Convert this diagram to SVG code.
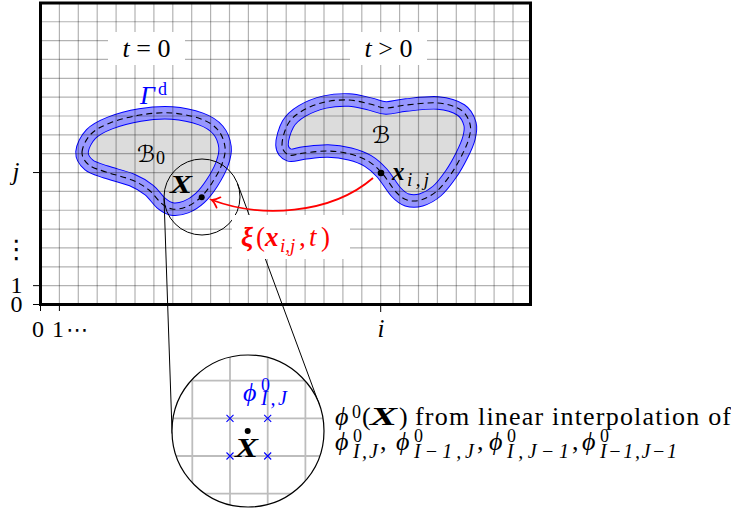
<svg xmlns="http://www.w3.org/2000/svg" width="731" height="511" viewBox="0 0 731 511">
<defs>
  <style>
    .serif { font-family: "Liberation Serif", "Times New Roman", serif; }
    .cal { font-family: "DejaVu Serif", "DejaVu Sans", serif; }
    .sym { font-family: "DejaVu Sans", sans-serif; }
    .grid { stroke: #000; stroke-opacity: 0.3; stroke-width: 1.2; fill: none; }
    .mgrid { stroke: #bdbdbd; stroke-width: 1.8; fill: none; }
    .band-edge { fill: #dcdcdc; stroke: #0000ff; stroke-width: 13.5; }
    .band { fill: none; stroke: #9797ff; stroke-width: 11.6; }
    .dash { fill: none; stroke: #000; stroke-width: 1.1; stroke-dasharray: 6 4; }
    .thin { fill: none; stroke: #000; stroke-width: 1; }
    .bi { font-weight: bold; font-style: italic; }
    .it { font-style: italic; }
    .cross { stroke: #0000ff; stroke-width: 1.1; }
  </style>
  <marker id="redto" markerUnits="userSpaceOnUse" markerWidth="20" markerHeight="20" viewBox="-10 -10 20 20" refX="0" refY="0" orient="auto">
    <path d="M -7,-5.5 Q -3,-1 0.5,0 Q -3,1 -7,5.5" fill="none" stroke="#ff0000" stroke-width="1.7" stroke-linecap="round"/>
  </marker>
  <clipPath id="plotclip"><rect x="40.5" y="3" width="490" height="301.5"/></clipPath>
  <clipPath id="magclip"><circle cx="248" cy="431" r="76"/></clipPath>
  <path id="b0" d="M 82,152 C 82.3,146.8 86.3,138.8 91,134 C 95.7,129.2 101.8,126.2 110,123 C 118.2,119.8 129.7,116.7 140,115 C 150.3,113.3 161.8,112.3 172,113 C 182.2,113.7 193.3,116.2 201,119 C 208.7,121.8 214,125.3 218,130 C 222,134.7 224.3,141.3 225,147 C 225.7,152.7 224.2,158 222,164 C 219.8,170 215.7,177.3 212,183 C 208.3,188.7 204.3,194 200,198 C 195.7,202 190.7,205.2 186,207 C 181.3,208.8 176.2,209.7 172,209 C 167.8,208.3 164.8,206.2 161,203 C 157.2,199.8 153.8,193.8 149,190 C 144.2,186.2 139.2,183 132,180 C 124.8,177 113.2,174.5 106,172 C 98.8,169.5 93,168.3 89,165 C 85,161.7 81.7,157.2 82,152 Z"/>
  <path id="b1" d="M 282,145 C 281.8,139.8 284.7,129.7 288,124 C 291.3,118.3 295.8,114.7 302,111 C 308.2,107.3 317.2,103.8 325,102 C 332.8,100.2 341.5,99.7 349,100 C 356.5,100.3 363.8,102.7 370,104 C 376.2,105.3 380,107.8 386,108 C 392,108.2 397.3,105.8 406,105 C 414.7,104.2 428.8,102.2 438,103 C 447.2,103.8 455.7,106.5 461,110 C 466.3,113.5 468.7,119.3 470,124 C 471.3,128.7 470.3,132.8 469,138 C 467.7,143.2 465,149 462,155 C 459,161 455.2,168 451,174 C 446.8,180 442,186.7 437,191 C 432,195.3 426,198.5 421,200 C 416,201.5 411.2,201.3 407,200 C 402.8,198.7 400.2,196.5 396,192 C 391.8,187.5 386.7,178.2 382,173 C 377.3,167.8 373.3,164.2 368,161 C 362.7,157.8 356.7,155.7 350,154 C 343.3,152.3 335.7,151.2 328,151 C 320.3,150.8 310.5,152.3 304,153 C 297.5,153.7 292.7,156.3 289,155 C 285.3,153.7 282.2,150.2 282,145 Z"/>
</defs>

<rect x="0" y="0" width="731" height="511" fill="#ffffff"/>

<!-- bodies -->
<g id="body0">
  <use href="#b0" class="band-edge"/>
  <use href="#b0" class="band"/>
</g>
<g id="body1">
  <use href="#b1" class="band-edge"/>
  <use href="#b1" class="band"/>
</g>

<!-- grid -->
<g id="grid" class="grid" clip-path="url(#plotclip)">
  <path d="M59.4,3V304.5M78.3,3V304.5M97.2,3V304.5M116.1,3V304.5M135,3V304.5M153.9,3V304.5M172.8,3V304.5M191.7,3V304.5M210.6,3V304.5M229.5,3V304.5M248.4,3V304.5M267.3,3V304.5M286.2,3V304.5M305.1,3V304.5M324,3V304.5M342.9,3V304.5M361.8,3V304.5M380.7,3V304.5M399.6,3V304.5M418.5,3V304.5M437.4,3V304.5M456.3,3V304.5M475.2,3V304.5M494.1,3V304.5M513,3V304.5"/>
  <path d="M40.5,285.65H530.5M40.5,266.8H530.5M40.5,247.95H530.5M40.5,229.1H530.5M40.5,210.25H530.5M40.5,191.4H530.5M40.5,172.55H530.5M40.5,153.7H530.5M40.5,134.85H530.5M40.5,116H530.5M40.5,97.15H530.5M40.5,78.3H530.5M40.5,59.45H530.5M40.5,40.6H530.5M40.5,21.75H530.5"/>
</g>

<!-- dashed interface lines -->
<g id="gamma-d">
  <use href="#b0" class="dash"/>
  <use href="#b1" class="dash"/>
  <text class="serif it" x="140" y="104" font-size="26" fill="#0000ff">Γ</text>
  <text class="serif" x="158" y="95" font-size="18" fill="#0000ff">d</text>
</g>

<!-- time labels -->
<g id="label-t0">
  <rect x="108" y="32" width="77" height="33" fill="#ffffff"/>
  <text class="serif" x="146.5" y="57" font-size="26" text-anchor="middle"><tspan class="it">t</tspan> = 0</text>
</g>
<g id="label-t1">
  <rect x="350" y="32" width="77" height="33" fill="#ffffff"/>
  <text class="serif" x="388.5" y="57" font-size="26" text-anchor="middle"><tspan class="it">t</tspan> &gt; 0</text>
</g>

<g id="label-B0">
  <text class="cal" x="137" y="162" font-size="23">ℬ</text>
  <text class="serif" x="156" y="164" font-size="18">0</text>
</g>
<g id="label-B">
  <text class="cal" x="372" y="143" font-size="23">ℬ</text>
</g>

<g id="point-X">
  <text class="serif bi" x="170" y="193" font-size="26" textLength="22" lengthAdjust="spacingAndGlyphs">X</text>
  <circle cx="201.7" cy="197.3" r="3" fill="#000"/>
</g>

<g id="point-xij">
  <circle cx="381" cy="173" r="3.3" fill="#000"/>
  <text class="serif bi" x="392" y="180" font-size="25">x</text>
  <text class="serif it" x="407" y="186" font-size="19" textLength="22" lengthAdjust="spacing">i,j</text>
</g>

<!-- connectors -->
<g id="connectors">
  <circle cx="202" cy="197" r="38" class="thin"/>
  <line x1="164" y1="198.3" x2="172.1" y2="433.6" class="thin"/>
  <line x1="237.6" y1="183.8" x2="319.3" y2="404.7" class="thin"/>
  <path d="M 373,178 C 330,215 260,218 212,200" fill="none" stroke="#ff0000" stroke-width="1.8" marker-end="url(#redto)"/>
</g>

<g id="label-xi">
  <rect x="232" y="215" width="118" height="44" fill="#ffffff"/>
  <text class="serif" y="246" font-size="27" fill="#ff0000"><tspan class="bi" x="241">ξ</tspan><tspan x="256">(</tspan><tspan class="bi" x="265">x</tspan><tspan class="it" x="280" y="252" font-size="19">i,j</tspan><tspan x="299" y="246">,</tspan><tspan class="it" x="309">t</tspan><tspan x="321">)</tspan></text>
</g>

<!-- frame and axes -->
<g id="axes">
  <rect x="40.5" y="3" width="490" height="301.5" fill="none" stroke="#000" stroke-width="3"/>
  <path d="M33,172.55H40.5M33,285.65H40.5M33,304.5H40.5M40.5,304.5V311M59.4,304.5V311M380.7,304.5V312" class="thin"/>
  <text class="serif it" x="16" y="180" font-size="25" text-anchor="middle">j</text>
  <text class="sym" x="16.5" y="258" font-size="26" text-anchor="middle">⋮</text>
  <text class="serif" x="16.5" y="293" font-size="24" text-anchor="middle">1</text>
  <text class="serif" x="16.5" y="312" font-size="24" text-anchor="middle">0</text>
  <text class="serif" x="38" y="337" font-size="24" text-anchor="middle">0</text>
  <text class="serif" x="52" y="337" font-size="24">1</text>
  <text class="sym" x="66" y="337" font-size="22">⋯</text>
  <text class="serif it" x="381" y="337" font-size="25" text-anchor="middle">i</text>
</g>

<!-- magnified view -->
<g id="magnifier">
  <circle cx="248" cy="431" r="76" fill="#ffffff"/>
  <g clip-path="url(#magclip)" class="mgrid">
    <path d="M192.3,350V510M230,350V510M267.7,350V510M305.4,350V510M165,380.7H330M165,418.3H330M165,456H330M165,493.7H330"/>
  </g>
  <circle cx="248" cy="431" r="76" fill="none" stroke="#000" stroke-width="1.2"/>
  <g class="cross">
    <path d="M226.5,414.8l7,7M233.5,414.8l-7,7"/>
    <path d="M264.2,414.8l7,7M271.2,414.8l-7,7"/>
    <path d="M226.5,452.5l7,7M233.5,452.5l-7,7"/>
    <path d="M264.2,452.5l7,7M271.2,452.5l-7,7"/>
  </g>
  <circle cx="247.7" cy="431" r="3" fill="#000"/>
  <text class="serif bi" x="235" y="457" font-size="27" textLength="23" lengthAdjust="spacingAndGlyphs">X</text>
  <text class="serif it" x="243" y="401" font-size="26" fill="#0000ff">ϕ</text>
  <text class="serif" x="261" y="391" font-size="18" fill="#0000ff">0</text>
  <text class="serif it" x="261" y="405" font-size="20" fill="#0000ff" textLength="26" lengthAdjust="spacing">I,J</text>
</g>

<!-- explanation -->
<g id="explanation" class="serif">
  <text class="it" x="335" y="425" font-size="26">ϕ</text>
  <text x="352" y="418" font-size="18">0</text>
  <text x="362" y="425" font-size="26">(</text>
  <text class="bi" x="370" y="425" font-size="26" textLength="27" lengthAdjust="spacingAndGlyphs">X</text>
  <text x="399" y="425" font-size="26">)</text>
  <text x="415" y="425" font-size="26" textLength="316" lengthAdjust="spacing">from linear interpolation of</text>

  <text class="it" x="335" y="450" font-size="26">ϕ</text>
  <text x="353" y="442" font-size="18">0</text>
  <text class="it" x="353" y="458" font-size="20" textLength="25" lengthAdjust="spacing">I,J</text>
  <text x="380" y="450" font-size="26">,</text>

  <text class="it" x="396" y="450" font-size="26">ϕ</text>
  <text x="414" y="442" font-size="18">0</text>
  <text class="it" x="414" y="458" font-size="20" textLength="60" lengthAdjust="spacing">I−1,J</text>
  <text x="477" y="450" font-size="26">,</text>

  <text class="it" x="489" y="450" font-size="26">ϕ</text>
  <text x="507" y="442" font-size="18">0</text>
  <text class="it" x="507" y="458" font-size="20" textLength="62" lengthAdjust="spacing">I,J−1</text>
  <text x="572" y="450" font-size="26">,</text>

  <text class="it" x="582" y="450" font-size="26">ϕ</text>
  <text x="600" y="442" font-size="18">0</text>
  <text class="it" x="600" y="458" font-size="20" textLength="77" lengthAdjust="spacing">I−1,J−1</text>
</g>
</svg>
